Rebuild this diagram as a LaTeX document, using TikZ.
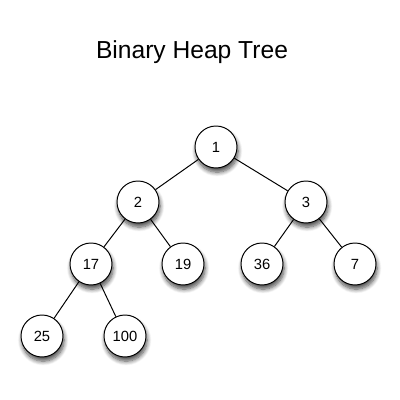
\documentclass[tikz,border=0pt]{standalone}
\usepackage{fontspec}
\setmainfont{Liberation Sans}
\usetikzlibrary{shadows.blur,positioning}
\tikzstyle{node}=[draw,circle,fill=white,line width=.7pt,inner sep=1pt,
  minimum size=1.05cm,font=\fontsize{10.5}{12}\selectfont,
  blur shadow={shadow xshift=.8pt,shadow yshift=-3pt,shadow blur radius=3pt,
    shadow blur steps=8,shadow opacity=70}]
\tikzstyle{edge}=[line width=.7pt]

\begin{document}
\begin{tikzpicture}[on grid]
  \useasboundingbox (-5.4,-6.325) rectangle (4.6,3.675);

  \node[node] (1) {1};
  \node[node, below left=1.375cm and 1.95cm of 1] (2) {2};
  \node[node, below right=1.375cm and 2.25cm of 1] (3) {3};
  \node[node, below left=1.55cm and 1.175cm of 2] (17) {17};
  \node[node, below right=1.55cm and 1.125cm of 2] (19) {19};
  \node[node, below left=1.55cm and 1.1cm of 3] (36) {36};
  \node[node, below right=1.55cm and 1.225cm of 3] (7) {7};
  \node[node, below left=1.8cm and 1.225cm of 17] (25) {25};
  \node[node, below right=1.8cm and .85cm of 17] (100) {100};

  \node[above left=2.375cm and .6cm of 1, font=\fontsize{17.5}{20}\selectfont] (title)
  {Binary Heap Tree};

  \draw[edge] (1) -- (2);
  \draw[edge] (1) -- (3);
  \draw[edge] (2) -- (17);
  \draw[edge] (2) -- (19);
  \draw[edge] (3) -- (36);
  \draw[edge] (3) -- (7);
  \draw[edge] (17) -- (25);
  \draw[edge] (17) -- (100);
\end{tikzpicture}
\end{document}
